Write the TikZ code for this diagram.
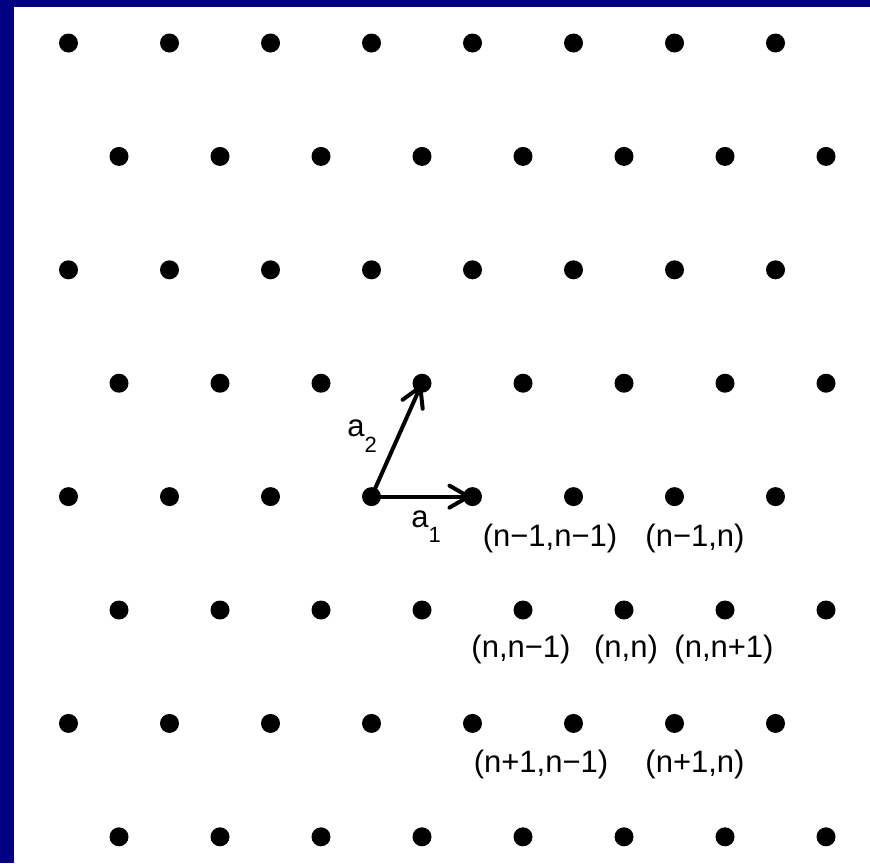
\documentclass[tikz,border=0pt]{standalone}
\usepackage{fontspec}
\setmainfont{Liberation Sans}
\usetikzlibrary{arrows.meta}
\definecolor{framenavy}{RGB}{0,0,128}

\begin{document}
\begin{tikzpicture}[
    x=0.5pt, y=-0.5pt,
    every node/.style={font=\fontsize{15.5}{18}\selectfont},
    site/.style={circle, fill=black, inner sep=0pt, minimum size=9.5pt},
    vec/.style={line width=2pt, line cap=round, -{Straight Barb[angle=60:11pt, line cap=round]}},
    tag/.style={anchor=base, inner sep=0pt},
    sub/.style={anchor=base west, inner sep=0pt}
]

% --- Frame ---
\fill[framenavy] (0,0) rectangle (870,863);
\fill[white] (14,7) rectangle (870,863);
\useasboundingbox (0,0) rectangle (870,863);

% --- Lattice sites ---
\foreach \r in {0,...,7} {
  \pgfmathsetmacro{\off}{mod(\r,2)*50.5}
  \foreach \c in {0,...,7} {
    \node[site] (p-\r-\c) at ({68.5+\off+101*\c}, {43+113.4*\r}) {};
  }
}

% --- Basis vectors ---
\draw[vec] (p-4-3.center) -- (p-4-4.center);
\draw[vec] (p-4-3.center) -- (p-3-3.center);
\node[sub] (a-one) at (411,527) {a\raisebox{-7.5pt}{\fontsize{11}{13}\selectfont 1}};
\node[sub] (a-two) at (347,436) {a\raisebox{-8pt}{\fontsize{11}{13}\selectfont 2}};

% --- Index labels ---
\node[tag] (idx-mm) at (550,546) {(n−1,n−1)};
\node[tag] (idx-m0) at (695,546) {(n−1,n)};
\node[tag] (idx-0m) at (521,657) {(n,n−1)};
\node[tag] (idx-00) at (626,657) {(n,n)};
\node[tag] (idx-0p) at (724,657) {(n,n+1)};
\node[tag] (idx-pm) at (541,772) {(n+1,n−1)};
\node[tag] (idx-p0) at (695,772) {(n+1,n)};

\end{tikzpicture}
\end{document}
